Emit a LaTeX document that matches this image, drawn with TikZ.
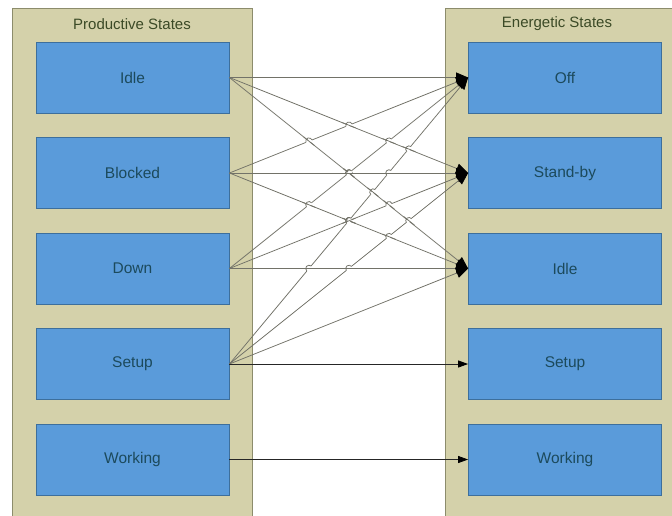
\documentclass[tikz,border=0pt]{standalone}
\usepackage{fontspec}
\setmainfont{Liberation Sans}
\usetikzlibrary{arrows.meta}
\definecolor{panelfill}{HTML}{D4D1AA}
\definecolor{panelline}{HTML}{8C8C6C}
\definecolor{boxfill}{HTML}{5A9BDA}
\definecolor{boxline}{HTML}{3D6F9C}
\definecolor{boxtext}{HTML}{1C4A5C}
\definecolor{titletext}{HTML}{3B4A26}
\definecolor{wire}{HTML}{727268}
\tikzset{
  panel/.style={draw=panelline, fill=panelfill, line width=0.8pt},
  statebox/.style={draw=boxline, fill=boxfill, line width=0.8pt, minimum width=193pt,
    minimum height=71pt, inner sep=0pt, text=boxtext, font=\fontsize{15.5}{18}\selectfont},
  paneltitle/.style={text=titletext, font=\fontsize{15}{18}\selectfont},
  wireline/.style={draw=wire, line width=0.75pt},
  link/.style={wireline, -{Triangle[length=12pt,width=10pt,color=black]}},
  plainlink/.style={draw=black!85, line width=0.8pt, -{Triangle[length=10pt,width=7pt,color=black]}}
}
\begin{document}
\begin{tikzpicture}[x=1pt,y=-1pt]
\useasboundingbox (0,0) rectangle (672,515);
\fill[white] (0,0) rectangle (672,515);
\begin{scope}
\clip (0,0) rectangle (672,515);
\draw[panel] (12,8) rectangle (252,530);
\draw[panel] (445,8) rectangle (690,530);
\end{scope}
\node[paneltitle] (ptitle) at (132,24) {Productive States};
\node[paneltitle] (etitle) at (557,24) {Energetic States};

% productive states (left column)
\node[statebox] (pidle)  at (132.5,77.5)  {Idle};
\node[statebox] (pblock) at (132.5,173)   {Blocked};
\node[statebox] (pdown)  at (132.5,268.5) {Down};
\node[statebox] (psetup) at (132.5,364)   {Setup};
\node[statebox] (pwork)  at (132.5,459.5) {Working};

% energetic states (right column)
\node[statebox] (eoff)   at (565,77.5)  {Off};
\node[statebox] (estand) at (565,173)   {Stand-by};
\node[statebox] (eidle)  at (565,268.5) {Idle};
\node[statebox] (esetup) at (565,364)   {Setup};
\node[statebox] (ework)  at (565,459.5) {Working};

% transitions into the three low-power states
\foreach \src in {pidle,pblock,pdown,psetup}{
  \foreach \dst in {eoff,estand,eidle}{
    \draw[link] (\src.east) -- (\dst.west);
  }
}

% line jumps: where two transitions cross, the later one hops over the earlier one
\foreach \k in {0,...,11}{
  \foreach \m in {0,...,11}{
    \ifnum\m>\k
      \pgfmathsetmacro\sk{{77.5,173,268.5,364}[int(\k/3)]}
      \pgfmathsetmacro\dk{{77.5,173,268.5}[mod(\k,3)]}
      \pgfmathsetmacro\sm{{77.5,173,268.5,364}[int(\m/3)]}
      \pgfmathsetmacro\dm{{77.5,173,268.5}[mod(\m,3)]}
      \pgfmathsetmacro\den{(\dk-\sk)-(\dm-\sm)}
      \pgfmathtruncatemacro\ok{abs(\den)>0.5}
      \ifnum\ok=1
        \pgfmathsetmacro\tpar{(\sm-\sk)/\den}
        \pgfmathtruncatemacro\inside{(\tpar>0.01)&&(\tpar<0.99)}
        \ifnum\inside=1
          \pgfmathsetmacro\px{229+240*\tpar}
          \pgfmathsetmacro\py{\sm+(\dm-\sm)*\tpar}
          \pgfmathsetmacro\angm{-atan((\dm-\sm)/240)}
          \pgfmathsetmacro\angk{-atan((\dk-\sk)/240)}
          \begin{scope}[shift={(\px,\py)}]
            \draw[white, line width=2.4pt, rotate=\angm] (-3.3,0) -- (3.3,0);
            \draw[wireline, rotate=\angk] (-7,0) -- (7,0);
            \draw[wireline, rotate=\angm] (-3.3,0) arc[start angle=180, end angle=360, radius=3.3];
          \end{scope}
        \fi
      \fi
    \fi
  }
}

% direct transitions
\draw[plainlink] (psetup.east) -- (esetup.west);
\draw[plainlink] (pwork.east) -- (ework.west);
\end{tikzpicture}
\end{document}
